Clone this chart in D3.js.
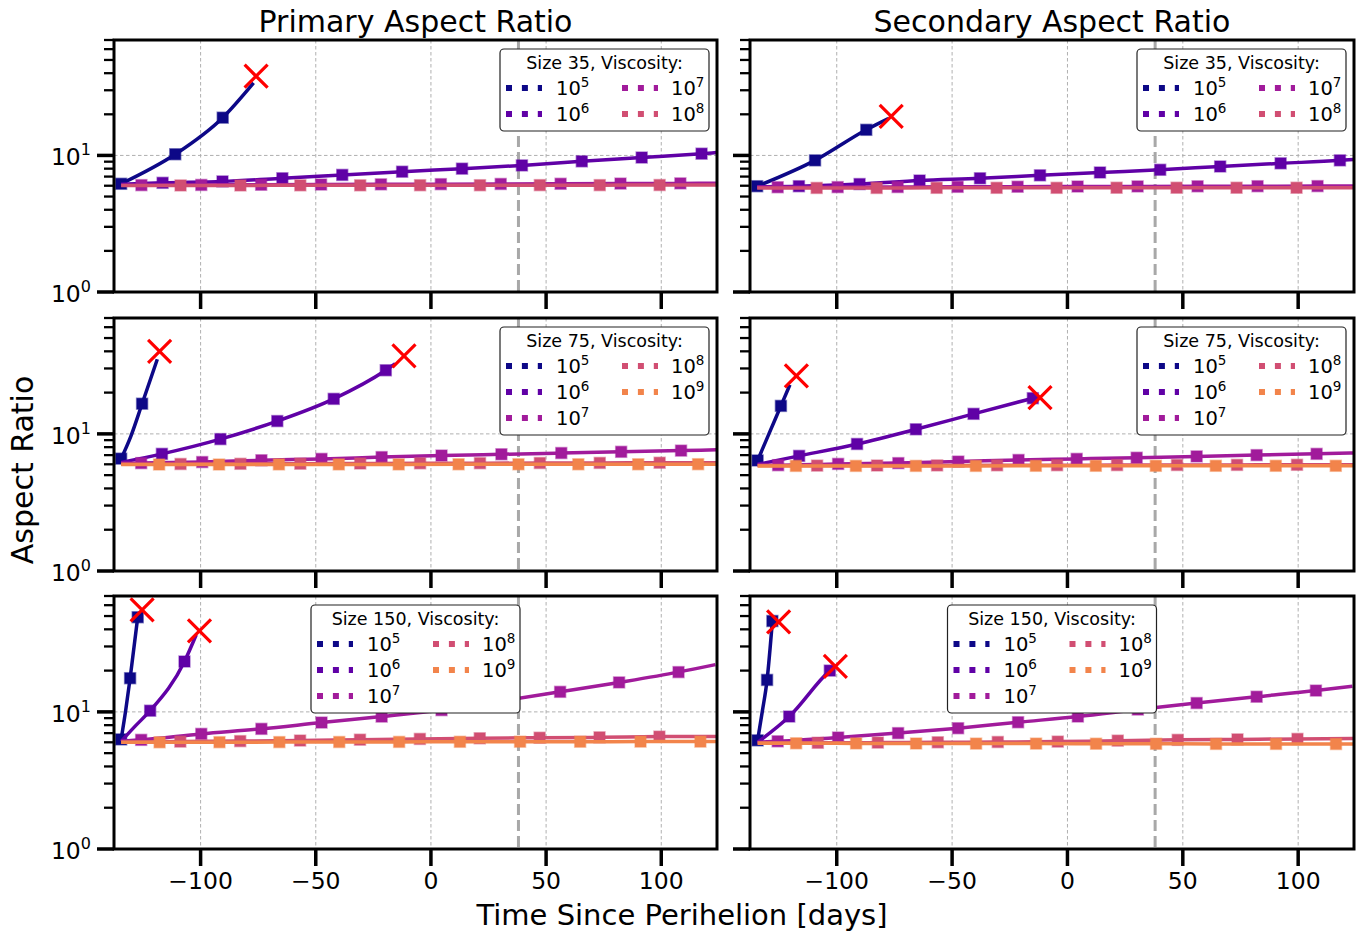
<!DOCTYPE html>
<html>
<head>
<meta charset="utf-8">
<script src="https://cdn.jsdelivr.net/npm/d3@7"></script>
<style>
  body { margin: 0; background: #fff; }
  svg { font-family: "DejaVu Sans", sans-serif; }
</style>
</head>
<body>
<svg id="fig" width="1359" height="931"></svg>
<script>
// viscosity exponents and the plasma position used for each
var viscExp = [5, 6, 7, 8, 9];
var plasmaAt = [0, 0.175, 0.35, 0.525, 0.7];
var xTicks = [-100, -50, 0, 50, 100];
var yMajor = [1, 10];
var yMinor = [2, 3, 4, 5, 6, 7, 8, 9, 20, 30, 40, 50, 60, 70];
var perihelionLine = 38;
var colTitles = ["Primary Aspect Ratio", "Secondary Aspect Ratio"];
var sizes = [35, 75, 150];

// [time (days), aspect ratio, marker?]
var pri35_5 = [[-134.5,6.2,1],[-111,10.2,1],[-90.4,18.9,1],[-77,34,0]];
var pri35_6 = [[-134.5,6.15,0],[-116.5,6.3,1],[-90.5,6.45,1],[-64.5,6.8,1],[-38.5,7.2,1],[-12.5,7.6,1],[13.5,8.0,1],[39.5,8.45,1],[65.5,9.05,1],[91.5,9.65,1],[117.5,10.3,1],[124,10.5,0]];
var pri35_7 = [[-134.5,6.05,0],[-125.7,6.06,1],[-99.7,6.08,1],[-73.7,6.1,1],[-47.7,6.12,1],[-21.7,6.14,1],[4.3,6.16,1],[30.3,6.18,1],[56.3,6.2,1],[82.3,6.22,1],[108.3,6.24,1],[124,6.25,0]];
var pri35_8 = [[-134.5,6.02,0],[-108.7,6.03,1],[-82.7,6.03,1],[-56.7,6.04,1],[-30.7,6.04,1],[-4.7,6.05,1],[21.3,6.05,1],[47.3,6.06,1],[73.3,6.06,1],[99.3,6.07,1],[124,6.07,0]];
var pri35_fail = [[-75.9,38]];

var sec35_5 = [[-134.5,5.95,1],[-109.4,9.2,1],[-87.2,15.4,1],[-77.6,18.6,0]];
var sec35_6 = [[-134.5,5.9,0],[-116.4,5.95,1],[-90.1,6.17,1],[-64.1,6.55,1],[-37.9,6.8,1],[-11.9,7.15,1],[14.1,7.5,1],[40.2,7.85,1],[66.2,8.3,1],[92.4,8.75,1],[118.1,9.2,1],[124,9.35,0]];
var sec35_7 = [[-134.5,5.85,0],[-125.6,5.85,1],[-99.6,5.86,1],[-73.6,5.87,1],[-47.6,5.89,1],[-21.6,5.9,1],[4.4,5.92,1],[30.4,5.93,1],[56.4,5.94,1],[82.4,5.95,1],[108.4,5.96,1],[124,5.97,0]];
var sec35_8 = [[-134.5,5.78,0],[-108.7,5.78,1],[-82.7,5.78,1],[-56.7,5.79,1],[-30.7,5.79,1],[-4.7,5.79,1],[21.3,5.8,1],[47.3,5.8,1],[73.3,5.8,1],[99.3,5.8,1],[124,5.8,0]];
var sec35_fail = [[-76.4,19.3]];

var pri75_5 = [[-134.5,6.6,1],[-130.3,9.6,0],[-125.4,16.6,1],[-118.8,35,0]];
var pri75_6 = [[-134.5,6.2,0],[-116.8,7.15,1],[-91.4,9.16,1],[-66.7,12.4,1],[-42.2,18.0,1],[-19.6,29.1,1],[-15.5,32.5,0]];
var pri75_7 = [[-134.5,6.1,0],[-125.8,6.12,1],[-99.3,6.23,1],[-73.6,6.42,1],[-47.5,6.57,1],[-21.4,6.77,1],[4.6,6.95,1],[30.6,7.1,1],[56.6,7.25,1],[82.6,7.4,1],[108.6,7.55,1],[124,7.65,0]];
var pri75_8 = [[-134.5,6.0,0],[-108.7,6.03,1],[-82.7,6.05,1],[-56.7,6.06,1],[-30.7,6.08,1],[-4.7,6.1,1],[21.3,6.11,1],[47.3,6.13,1],[73.3,6.14,1],[99.3,6.16,1],[124,6.17,0]];
var pri75_9 = [[-134.5,5.98,0],[-118,5.98,1],[-92,5.98,1],[-66,5.99,1],[-40,5.99,1],[-14,5.99,1],[12,6.0,1],[38,6.0,1],[64,6.0,1],[90,6.0,1],[116,6.01,1],[124,6.01,0]];
var pri75_fail = [[-117.8,39.9],[-11.7,37]];

var sec75_5 = [[-134.3,6.4,1],[-129.4,10,0],[-124.2,16,1],[-120.3,22.8,0]];
var sec75_6 = [[-134.3,6.0,0],[-116.3,6.91,1],[-91.2,8.44,1],[-65.7,10.8,1],[-40.7,14.0,1],[-15,18.2,1]];
var sec75_7 = [[-134.3,5.9,0],[-125.4,5.91,1],[-99.4,6.04,1],[-73.3,6.12,1],[-47.3,6.28,1],[-21.2,6.45,1],[4,6.57,1],[30,6.7,1],[56,6.85,1],[82,7.0,1],[108,7.15,1],[124,7.25,0]];
var sec75_8 = [[-134.3,5.87,0],[-108.5,5.87,1],[-82.5,5.88,1],[-56.5,5.89,1],[-30.5,5.9,1],[-4.5,5.91,1],[21.5,5.92,1],[47.5,5.93,1],[73.5,5.94,1],[99.5,5.95,1],[124,5.95,0]];
var sec75_9 = [[-134.3,5.84,0],[-117.7,5.84,1],[-91.7,5.84,1],[-65.7,5.84,1],[-39.7,5.84,1],[-13.7,5.85,1],[12.3,5.85,1],[38.3,5.85,1],[64.3,5.85,1],[90.3,5.85,1],[116.3,5.85,1],[124,5.85,0]];
var sec75_fail = [[-117.5,26.5],[-11.9,18.4]];

var pri150_5 = [[-134.5,6.3,1],[-132.5,10.3,0],[-130.6,17.6,1],[-127.3,49,1]];
var pri150_6 = [[-134.5,6.1,0],[-128.3,7.9,0],[-121.9,10.2,1],[-107,23.3,1],[-101.9,36.5,0]];
var pri150_7 = [[-134.5,6.1,0],[-125.8,6.25,1],[-99.7,6.91,1],[-73.6,7.52,1],[-47.5,8.36,1],[-21.4,9.24,1],[4.6,10.3,1],[30.6,12.0,1],[56.1,14.0,1],[81.7,16.4,1],[107.5,19.5,1],[123.5,22.1,0]];
var pri150_8 = [[-134.5,6.0,0],[-108.8,6.07,1],[-82.8,6.12,1],[-56.8,6.18,1],[-30.8,6.27,1],[-4.8,6.35,1],[21.2,6.42,1],[47.2,6.48,1],[73.2,6.52,1],[99.2,6.6,1],[124,6.62,0]];
var pri150_9 = [[-134.5,6.0,0],[-117.8,6.0,1],[-91.8,6.01,1],[-65.8,6.02,1],[-39.8,6.03,1],[-13.8,6.04,1],[12.6,6.05,1],[38.7,6.06,1],[64.8,6.06,1],[91,6.07,1],[117,6.07,1],[124,6.07,0]];
var pri150_fail = [[-125.4,55.5],[-100.5,39]];

var sec150_5 = [[-134.3,6.2,1],[-132.3,10,0],[-130.2,17.1,1],[-127.9,46,1]];
var sec150_6 = [[-134.3,6.0,0],[-120.6,9.25,1],[-103,20,1],[-101.5,21,0]];
var sec150_7 = [[-134.3,6.0,0],[-125.6,6.1,1],[-99.4,6.5,1],[-73.4,7.0,1],[-47.4,7.6,1],[-21.4,8.4,1],[4.5,9.25,1],[30.5,10.4,1],[56,11.6,1],[82,12.9,1],[107.7,14.3,1],[123.5,15.4,0]];
var sec150_8 = [[-134.3,5.95,0],[-108.2,5.95,1],[-82.2,5.97,1],[-56.2,6.0,1],[-30.2,6.03,1],[-4.2,6.07,1],[21.8,6.17,1],[47.8,6.25,1],[73.7,6.3,1],[99.7,6.35,1],[124,6.4,0]];
var sec150_9 = [[-134.3,5.9,0],[-117.6,5.9,1],[-91.6,5.89,1],[-65.6,5.88,1],[-39.6,5.87,1],[-13.6,5.87,1],[12.4,5.86,1],[38.4,5.85,1],[64.4,5.84,1],[90.4,5.84,1],[116.4,5.83,1],[124,5.83,0]];
var sec150_fail = [[-125.2,45.4],[-100.6,21.5]];

var panels = [
  {row: 0, col: 0, series: [pri35_5, pri35_6, pri35_7, pri35_8], fails: pri35_fail},
  {row: 0, col: 1, series: [sec35_5, sec35_6, sec35_7, sec35_8], fails: sec35_fail},
  {row: 1, col: 0, series: [pri75_5, pri75_6, pri75_7, pri75_8, pri75_9], fails: pri75_fail},
  {row: 1, col: 1, series: [sec75_5, sec75_6, sec75_7, sec75_8, sec75_9], fails: sec75_fail},
  {row: 2, col: 0, series: [pri150_5, pri150_6, pri150_7, pri150_8, pri150_9], fails: pri150_fail},
  {row: 2, col: 1, series: [sec150_5, sec150_6, sec150_7, sec150_8, sec150_9], fails: sec150_fail}
];

var colors = plasmaAt.map(function(t) { return d3.interpolatePlasma(t); });

var svg = d3.select("#fig");
var colX = [[114, 717], [750, 1354]];
var rowY = [[40, 292], [318, 571], [596, 849]];

panels.forEach(function(p, pi) {
  var x0 = colX[p.col][0], x1 = colX[p.col][1];
  var y0 = rowY[p.row][0], y1 = rowY[p.row][1];

  var x = d3.scaleLinear().domain([-137.6, 124.2]).range([x0, x1]);
  var y = d3.scaleLog().domain([1, 70]).range([y1, y0]);

  var g = svg.append("g");
  var clipId = "clip" + pi;
  g.append("clipPath").attr("id", clipId)
    .append("rect").attr("x", x0).attr("y", y0).attr("width", x1 - x0).attr("height", y1 - y0);

  // grid
  g.selectAll(".vg").data(xTicks).join("line")
      .attr("x1", d => x(d)).attr("x2", d => x(d)).attr("y1", y0).attr("y2", y1)
      .attr("stroke", "#b0b0b0").attr("stroke-width", 1).attr("stroke-dasharray", "3.5,2.5");
  g.selectAll(".hg").data(yMajor).join("line")
      .attr("x1", x0).attr("x2", x1).attr("y1", d => y(d)).attr("y2", d => y(d))
      .attr("stroke", "#b0b0b0").attr("stroke-width", 1).attr("stroke-dasharray", "3.5,2.5");

  // perihelion marker line
  g.append("line")
      .attr("x1", x(perihelionLine)).attr("x2", x(perihelionLine)).attr("y1", y0).attr("y2", y1)
      .attr("stroke", "#a8a8a8").attr("stroke-width", 3).attr("stroke-dasharray", "11,5");

  var line = d3.line().x(d => x(d[0])).y(d => y(d[1])).curve(d3.curveMonotoneX);
  var plot = g.append("g").attr("clip-path", "url(#" + clipId + ")");

  p.series.forEach(function(s, i) {
    var c = colors[i];
    plot.append("path").attr("d", line(s))
        .attr("fill", "none").attr("stroke", c).attr("stroke-width", 3.5);
    plot.selectAll(null).data(s.filter(d => d[2])).join("rect")
        .attr("x", d => x(d[0]) - 5.5).attr("y", d => y(d[1]) - 5.5)
        .attr("width", 11).attr("height", 11)
        .attr("fill", c).attr("stroke", c).attr("stroke-opacity", 0.45).attr("stroke-width", 1.5);
  });

  // failures
  p.fails.forEach(function(f) {
    var cx = x(f[0]), cy = y(f[1]), r = 11.5;
    g.append("path")
        .attr("d", "M" + (cx - r) + "," + (cy - r) + "L" + (cx + r) + "," + (cy + r) +
                   "M" + (cx - r) + "," + (cy + r) + "L" + (cx + r) + "," + (cy - r))
        .attr("stroke", "#ff0000").attr("stroke-width", 3.2).attr("fill", "none");
  });

  // spines
  g.append("rect").attr("x", x0).attr("y", y0).attr("width", x1 - x0).attr("height", y1 - y0)
      .attr("fill", "none").attr("stroke", "#000").attr("stroke-width", 3);

  // ticks
  g.selectAll(".xt").data(xTicks).join("line")
      .attr("x1", d => x(d)).attr("x2", d => x(d)).attr("y1", y1).attr("y2", y1 + 17)
      .attr("stroke", "#000").attr("stroke-width", 3.5);
  g.selectAll(".yt").data(yMajor).join("line")
      .attr("x1", x0 - 17).attr("x2", x0).attr("y1", d => y(d)).attr("y2", d => y(d))
      .attr("stroke", "#000").attr("stroke-width", 3.5);
  g.selectAll(".ym").data(yMinor).join("line")
      .attr("x1", x0 - 10).attr("x2", x0).attr("y1", d => y(d)).attr("y2", d => y(d))
      .attr("stroke", "#000").attr("stroke-width", 2.3);

  if (p.row === 2) {
    g.selectAll(".xl").data(xTicks).join("text")
        .attr("x", d => x(d)).attr("y", y1 + 40)
        .attr("text-anchor", "middle").attr("font-size", 23.5)
        .text(d => d < 0 ? "\u2212" + Math.abs(d) : String(d));
  }
  if (p.col === 0) {
    yMajor.forEach(function(v) {
      var t = g.append("text").attr("x", x0 - 23).attr("y", y(v) + 10)
          .attr("text-anchor", "end").attr("font-size", 23.5);
      t.append("tspan").text("10");
      t.append("tspan").attr("dy", -10).attr("font-size", 16).text(String(Math.round(Math.log10(v))));
    });
  }

  // legend
  var n = p.series.length;
  var nrows = Math.ceil(n / 2);
  var lw = 209, lh = 39 + 26 * (nrows - 1) + 17;
  var lx = p.row === 2 ? (x0 + x1) / 2 - lw / 2 : x1 - 8 - lw;
  var ly = y0 + 9;
  var lg = g.append("g");
  lg.append("rect").attr("x", lx).attr("y", ly).attr("width", lw).attr("height", lh)
      .attr("rx", 4).attr("fill", "#fff").attr("stroke", "#222").attr("stroke-width", 1.2);
  lg.append("text").attr("x", lx + lw / 2).attr("y", ly + 20)
      .attr("text-anchor", "middle").attr("font-size", 17.5)
      .text("Size " + sizes[p.row] + ", Viscosity:");
  p.series.forEach(function(s, i) {
    var col = Math.floor(i / nrows), r = i % nrows;
    var hx = lx + (col === 0 ? 6 : 122);
    var tx = lx + (col === 0 ? 56 : 171);
    var cy = ly + 39 + 26 * r;
    lg.append("line").attr("x1", hx).attr("x2", hx + 36).attr("y1", cy).attr("y2", cy)
        .attr("stroke", colors[i]).attr("stroke-width", 6).attr("stroke-dasharray", "6,9.9");
    var t = lg.append("text").attr("x", tx).attr("y", cy + 7).attr("font-size", 19.5);
    t.append("tspan").text("10");
    t.append("tspan").attr("dy", -8).attr("font-size", 13.5).text(String(viscExp[i]));
  });
});

// column titles and axis labels
colTitles.forEach(function(t, i) {
  svg.append("text").attr("x", (colX[i][0] + colX[i][1]) / 2).attr("y", 32)
      .attr("text-anchor", "middle").attr("font-size", 30).text(t);
});
svg.append("text").attr("x", 682).attr("y", 925)
    .attr("text-anchor", "middle").attr("font-size", 29).text("Time Since Perihelion [days]");
svg.append("text").attr("transform", "translate(33,470) rotate(-90)")
    .attr("text-anchor", "middle").attr("font-size", 30).text("Aspect Ratio");
</script>
</body>
</html>
